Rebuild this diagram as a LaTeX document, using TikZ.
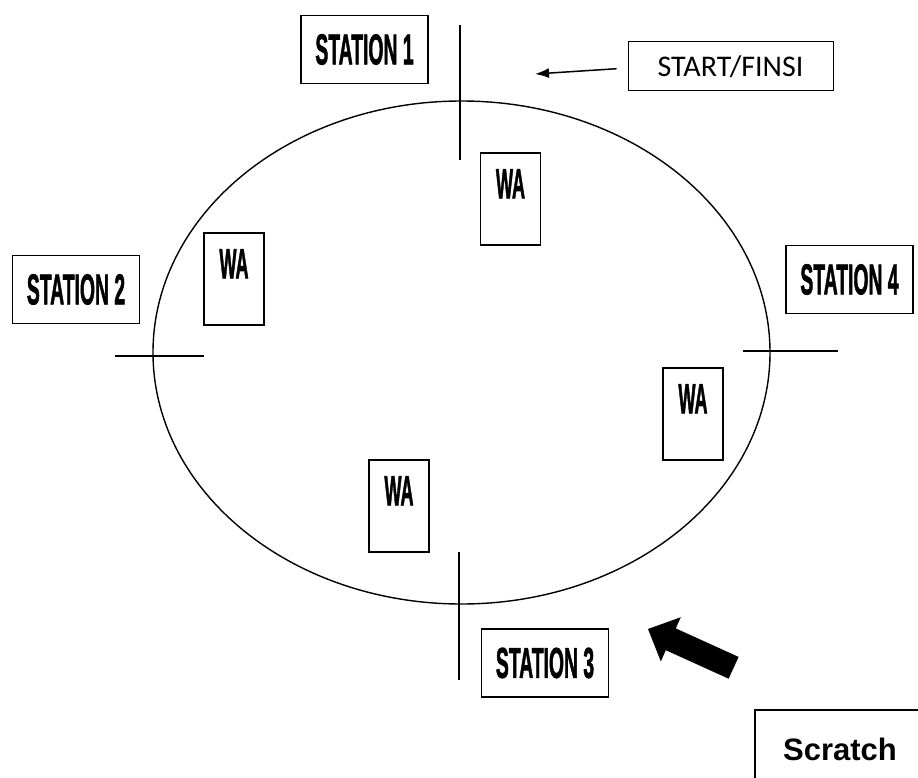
\documentclass[tikz,border=0pt]{standalone}
\usepackage{fontspec}
\setmainfont{Liberation Sans}
\newfontfamily\calfont{Carlito}
\newfontfamily\stfont[FakeBold=2]{Liberation Sans Bold}
\usetikzlibrary{arrows.meta}
\newcommand{\sttxt}[1]{\scalebox{0.45}[1]{\stfont\fontsize{43}{43}\selectfont #1}}
\newcommand{\watxt}{\scalebox{0.43}[1]{\stfont\fontsize{42}{42}\selectfont WA}}
\begin{document}
\begin{tikzpicture}[x=1pt,y=-1pt,
  stbox/.style={draw, line width=1.8pt, minimum width=127pt, minimum height=68pt, inner sep=0pt},
  wabox/.style={draw, line width=1.6pt, minimum width=60pt, minimum height=92pt, inner sep=0pt},
  walab/.style={anchor=north, inner sep=0pt, yshift=-17pt},
  mark line/.style={line width=1.3pt},
  track/.style={line width=1.4pt}]
\useasboundingbox (0,0) rectangle (918,778);
\clip (0,0) rectangle (918,778);
% track
\draw[track] (461.5,352.5) ellipse [x radius=308.5pt, y radius=251.5pt];
% station marks
\coordinate (m1a) at (460,25);  \coordinate (m1b) at (460,160);
\coordinate (m2a) at (115,356); \coordinate (m2b) at (204,356);
\coordinate (m3a) at (459,552); \coordinate (m3b) at (459,680);
\coordinate (m4a) at (743,351); \coordinate (m4b) at (838,351);
\draw[mark line] (m1a) -- (m1b);
\draw[mark line] (m2a) -- (m2b);
\draw[mark line] (m3a) -- (m3b);
\draw[mark line] (m4a) -- (m4b);
% stations
\node[stbox] (s1) at (364.5,49.5) {\sttxt{STATION 1}};
\node[stbox] (s2) at (76,289.5) {\sttxt{STATION 2}};
\node[stbox] (s3) at (545,663) {\sttxt{STATION 3}};
\node[stbox] (s4) at (849.5,279.5) {\sttxt{STATION 4}};
% water stations
\node[wabox, label={[walab]north:\watxt}] (w1) at (510.5,199) {};
\node[wabox, label={[walab]north:\watxt}] (w2) at (234,279) {};
\node[wabox, label={[walab]north:\watxt}] (w3) at (399,506) {};
\node[wabox, label={[walab]north:\watxt}] (w4) at (693,414) {};
% start/finish
\node[draw, line width=1pt, minimum width=205pt, minimum height=49pt, inner sep=0pt] (sf) at (730.5,66.5)
  {\calfont\fontsize{30}{30}\selectfont START/FINSI};
\coordinate (sfend) at (535,74);
\draw[line width=1.5pt, -{Latex[length=14pt,width=10pt]}, shorten <=11pt] ([yshift=-1.5pt]sf.west) -- (sfend);
% big arrow
\fill (648,629) -- (680.8,617.2) -- (675.8,628.4) -- (738.6,656.9) -- (728.6,678.7)
  -- (665.8,650.2) -- (660.8,661.4) -- cycle;
% scratch
\node[draw, line width=1.6pt, anchor=north west, minimum width=200pt, minimum height=100pt,
  inner sep=0pt] (sc) at (754,709) {};
\node[anchor=base, inner sep=0pt] (sct) at (840,760) {\fontsize{31}{31}\selectfont\bfseries Scratch};
\end{tikzpicture}
\end{document}
